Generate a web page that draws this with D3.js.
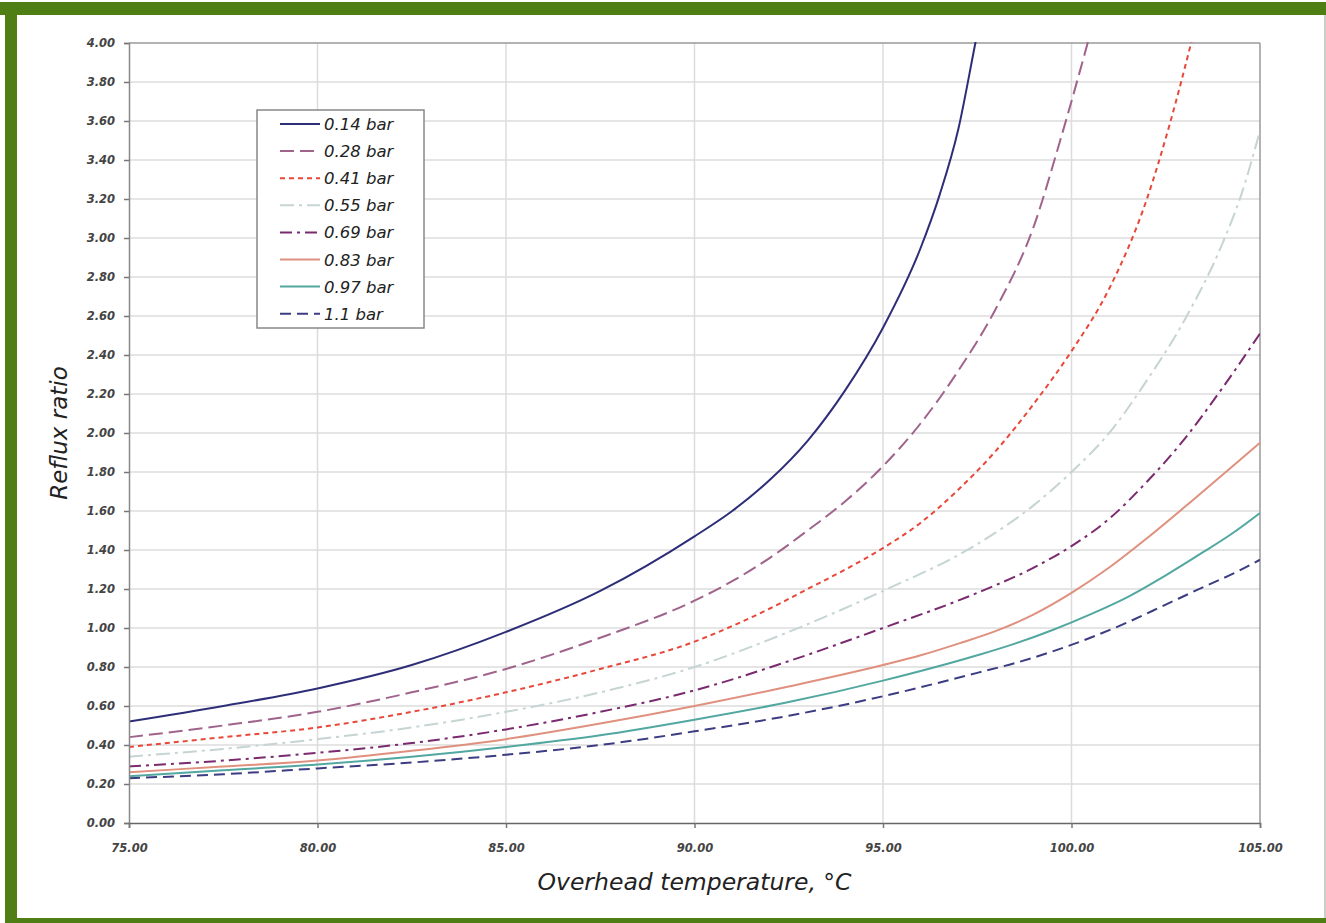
<!DOCTYPE html>
<html>
<head>
<meta charset="utf-8">
<script src="https://cdn.jsdelivr.net/npm/d3@7"></script>
<style>
  html, body { margin: 0; padding: 0; background: #ffffff; }
  svg { display: block; }
</style>
</head>
<body>
<svg id="chart" width="1326" height="923"></svg>
<script>
// ---- data ----
const seriesNames = ["0.14 bar", "0.28 bar", "0.41 bar", "0.55 bar", "0.69 bar", "0.83 bar", "0.97 bar", "1.1 bar"];
const xTicks = [75, 80, 85, 90, 95, 100, 105];
const yTicks = [0, 0.2, 0.4, 0.6, 0.8, 1.0, 1.2, 1.4, 1.6, 1.8, 2.0, 2.2, 2.4, 2.6, 2.8, 3.0, 3.2, 3.4, 3.6, 3.8, 4.0];

const s014 = [[75,0.52],[77.5,0.60],[80,0.69],[82.5,0.81],[85,0.98],[87.5,1.19],[90,1.47],[91,1.60],[92,1.76],[93,1.96],[94,2.22],[95,2.54],[96,2.95],[96.5,3.22],[97,3.56],[97.4,3.95],[97.5,4.05]];
const s028 = [[75,0.44],[77.5,0.50],[80,0.57],[82.5,0.67],[85,0.79],[87.5,0.95],[90,1.14],[91,1.24],[92,1.36],[93,1.50],[94,1.65],[95,1.83],[96,2.05],[97,2.32],[98,2.64],[99,3.06],[99.7,3.50],[100.5,4.05]];
const s041 = [[75,0.39],[77.5,0.44],[80,0.49],[82.5,0.57],[85,0.67],[87.5,0.79],[90,0.93],[91,1.01],[92,1.10],[93,1.20],[94,1.30],[95,1.41],[96,1.54],[97,1.71],[98,1.91],[99,2.15],[100,2.42],[101,2.74],[102,3.20],[102.6,3.58],[103.2,4.02]];
const s055 = [[75,0.34],[77.5,0.38],[80,0.43],[82.5,0.49],[85,0.57],[87.5,0.67],[90,0.80],[92.5,0.98],[95,1.19],[97.5,1.43],[99,1.63],[100,1.80],[101,2.00],[102,2.27],[103,2.58],[104,2.97],[104.5,3.22],[105,3.55]];
const s069 = [[75,0.29],[77.5,0.32],[80,0.36],[82.5,0.41],[85,0.48],[87.5,0.57],[90,0.68],[92.5,0.83],[95,1.00],[97.5,1.18],[99,1.31],[100,1.42],[101,1.56],[102,1.75],[103,1.97],[104,2.23],[105,2.51]];
const s083 = [[75,0.26],[77.5,0.29],[80,0.32],[82.5,0.37],[85,0.43],[87.5,0.51],[90,0.60],[92.5,0.70],[95,0.81],[96,0.86],[97,0.92],[98,0.985],[99,1.07],[100,1.18],[101,1.31],[102,1.46],[103,1.62],[104,1.785],[105,1.95]];
const s097 = [[75,0.24],[77.5,0.27],[80,0.30],[82.5,0.34],[85,0.39],[87.5,0.45],[90,0.53],[92.5,0.62],[95,0.73],[97.5,0.86],[98.5,0.92],[99.5,0.99],[100.5,1.07],[101.5,1.16],[102.5,1.27],[103.5,1.39],[104.3,1.49],[105,1.59]];
const s110 = [[75,0.23],[77.5,0.25],[80,0.28],[82.5,0.31],[85,0.35],[87.5,0.40],[90,0.47],[92.5,0.55],[95,0.65],[97.5,0.77],[98.5,0.82],[99.5,0.88],[100.5,0.95],[101.5,1.03],[102.5,1.12],[103.5,1.21],[104.3,1.28],[105,1.35]];
const seriesValues = [s014, s028, s041, s055, s069, s083, s097, s110];

// ---- styles ----
const colors = ["#2e2e78", "#a0648c", "#e8483a", "#c6d4d4", "#7a2a6e", "#e0907e", "#52a8a0", "#3c3c82"];
const dashes = [null, "14,6", "5,4", "14,5,3,5", "12,5,3,5", null, null, "11,6"];

const svg = d3.select("#chart");
const W = 1326, H = 923;
const green = "#4e7e14";

// background + frame
svg.append("rect").attr("x", 0).attr("y", 0).attr("width", W).attr("height", H).attr("fill", "#fff");
svg.append("rect").attr("x", 0).attr("y", 2).attr("width", W).attr("height", 13).attr("fill", green);
svg.append("rect").attr("x", 5).attr("y", 2).attr("width", 12).attr("height", H).attr("fill", green);
svg.append("rect").attr("x", 5).attr("y", 918).attr("width", W).attr("height", 5).attr("fill", green);
svg.append("rect").attr("x", 1324).attr("y", 15).attr("width", 2).attr("height", 903).attr("fill", "#c8d0c8");

const margin = {left: 129, right: 1260, top: 43, bottom: 823};
const x = d3.scaleLinear().domain([75, 105]).range([margin.left, margin.right]);
const y = d3.scaleLinear().domain([0, 4]).range([margin.bottom, margin.top]);

// grid
const grid = svg.append("g");
grid.selectAll("line.h").data(yTicks.filter(d => d > 0 && d < 4)).enter().append("line")
  .attr("x1", margin.left).attr("x2", margin.right)
  .attr("y1", d => y(d)).attr("y2", d => y(d))
  .attr("stroke", "#dcdcdc").attr("stroke-width", 1.5);
grid.selectAll("line.v").data(xTicks.filter(d => d > 75 && d < 105)).enter().append("line")
  .attr("y1", margin.top).attr("y2", margin.bottom)
  .attr("x1", d => x(d)).attr("x2", d => x(d))
  .attr("stroke", "#dcdcdc").attr("stroke-width", 1.5);

// plot border (top / right)
svg.append("line").attr("x1", margin.left).attr("x2", margin.right).attr("y1", margin.top).attr("y2", margin.top)
  .attr("stroke", "#999").attr("stroke-width", 1.5);
svg.append("line").attr("x1", margin.right).attr("x2", margin.right).attr("y1", margin.top).attr("y2", margin.bottom)
  .attr("stroke", "#999").attr("stroke-width", 1.5);

// clip
svg.append("clipPath").attr("id", "clip").append("rect")
  .attr("x", margin.left).attr("y", margin.top - 1)
  .attr("width", margin.right - margin.left).attr("height", margin.bottom - margin.top + 1);

const line = d3.line().x(d => x(d[0])).y(d => y(d[1])).curve(d3.curveMonotoneX);
const lines = svg.append("g").attr("clip-path", "url(#clip)");
seriesValues.forEach((s, i) => {
  lines.append("path").datum(s)
    .attr("d", line)
    .attr("fill", "none")
    .attr("stroke", colors[i])
    .attr("stroke-width", 2)
    .attr("stroke-dasharray", dashes[i]);
});

// axes
const tickFont = "'DejaVu Sans', Verdana, sans-serif";
const yAxis = svg.append("g").attr("transform", `translate(${margin.left},0)`)
  .call(d3.axisLeft(y).tickValues(yTicks).tickFormat(d3.format(".2f")).tickSize(5).tickPadding(9));
const xAxis = svg.append("g").attr("transform", `translate(0,${margin.bottom})`)
  .call(d3.axisBottom(x).tickValues(xTicks).tickFormat(d3.format(".2f")).tickSize(5).tickPadding(16));
[yAxis, xAxis].forEach(a => {
  a.select(".domain").attr("stroke", "#888").attr("stroke-width", 1.5);
  a.selectAll(".tick line").attr("stroke", "#777").attr("stroke-width", 1.5);
  a.selectAll(".tick text")
    .attr("font-family", tickFont).attr("font-size", 11.5)
    .attr("font-weight", "bold").attr("font-style", "italic").attr("fill", "#444");
});
xAxis.select(".domain").attr("stroke", "#666");

// axis titles
const titleFont = "'DejaVu Sans', Verdana, sans-serif";
svg.append("text")
  .attr("transform", `translate(67,${y(2.0)}) rotate(-90)`)
  .attr("text-anchor", "middle")
  .attr("font-family", titleFont)
  .attr("font-style", "italic").attr("font-size", 23).attr("fill", "#222")
  .text("Reflux ratio");
svg.append("text")
  .attr("x", x(90)).attr("y", 890)
  .attr("text-anchor", "middle")
  .attr("font-family", titleFont)
  .attr("font-style", "italic").attr("font-size", 23.5).attr("fill", "#222")
  .text("Overhead temperature, °C");

// legend
const lg = svg.append("g");
lg.append("rect").attr("x", 257).attr("y", 110).attr("width", 167).attr("height", 218)
  .attr("fill", "#fff").attr("stroke", "#888").attr("stroke-width", 1.5);
seriesNames.forEach((name, i) => {
  const yy = 124 + i * 27.1;
  lg.append("line").attr("x1", 280).attr("x2", 320).attr("y1", yy).attr("y2", yy)
    .attr("stroke", colors[i]).attr("stroke-width", 2).attr("stroke-dasharray", dashes[i]);
  lg.append("text").attr("x", 324).attr("y", yy + 6)
    .attr("font-family", titleFont)
    .attr("font-style", "italic").attr("font-size", 16.5).attr("fill", "#222")
    .text(name);
});
</script>
</body>
</html>
